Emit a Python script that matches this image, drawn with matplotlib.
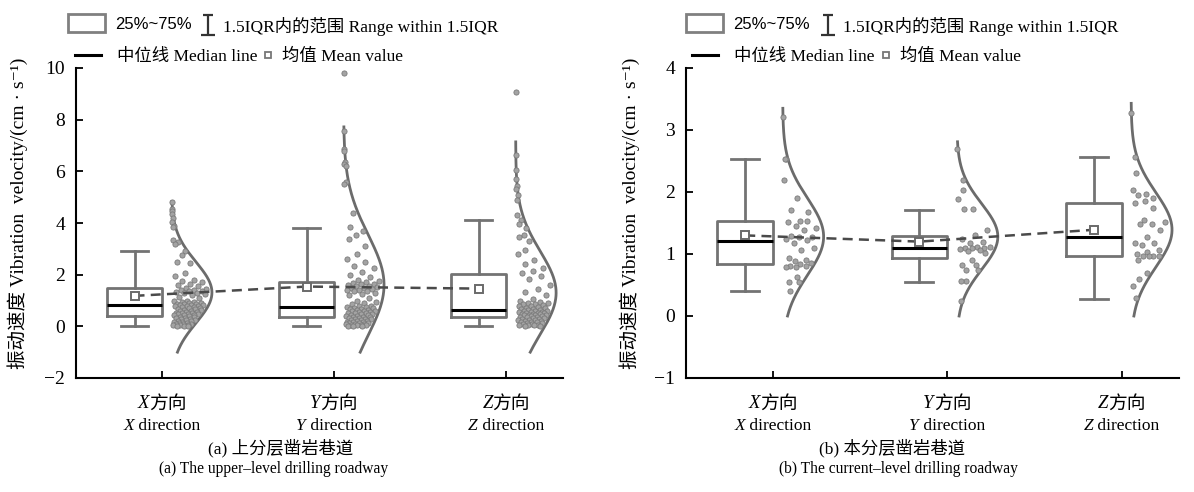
import numpy as np
import matplotlib
matplotlib.use("Agg")
import matplotlib.pyplot as plt
from matplotlib.path import Path
from matplotlib.patches import Rectangle
from matplotlib.lines import Line2D
from matplotlib.legend import Legend
from matplotlib.offsetbox import TextArea, HPacker, AnnotationBbox

plt.rcParams['font.family'] = ['Liberation Serif', 'Noto Sans CJK SC', 'DejaVu Sans']

directions = ['X', 'Y', 'Z']

# (a) upper-level drilling roadway: measured velocities per direction
upper_x = [4.80, 4.55, 4.45, 4.35, 4.20, 4.05, 3.90, 3.85, 3.35, 3.25, 3.20, 2.90,
           2.75, 2.50, 2.45, 2.05, 1.95, 1.80, 1.75, 1.72, 1.65, 1.60, 1.55, 1.50,
           1.45, 1.42, 1.40, 1.38, 1.35, 1.32, 1.30, 1.28, 1.25, 1.20, 1.15, 1.10,
           1.00, 0.98, 0.95, 0.93, 0.92, 0.90, 0.88, 0.87, 0.85, 0.84, 0.83, 0.82,
           0.80, 0.79, 0.77, 0.75, 0.73, 0.72, 0.70, 0.68, 0.66, 0.64, 0.62, 0.60,
           0.58, 0.56, 0.55, 0.53, 0.52, 0.50, 0.48, 0.47, 0.46, 0.45, 0.43, 0.42,
           0.40, 0.38, 0.36, 0.34, 0.32, 0.30, 0.28, 0.26, 0.24, 0.22, 0.20, 0.18,
           0.16, 0.14, 0.12, 0.10, 0.09, 0.08, 0.06, 0.05, 0.04, 0.03, 0.02, 0.01]
upper_y = [9.80, 7.55, 6.85, 6.80, 6.35, 6.30, 6.20, 5.60, 5.50, 4.40, 3.85, 3.70,
           3.55, 3.40, 3.10, 2.80, 2.60, 2.50, 2.35, 2.25, 2.10, 2.00, 1.90, 1.80,
           1.75, 1.70, 1.68, 1.65, 1.62, 1.60, 1.57, 1.55, 1.52, 1.50, 1.47, 1.45,
           1.42, 1.40, 1.37, 1.35, 1.30, 1.25, 1.20, 1.10, 1.00, 0.95, 0.90, 0.85,
           0.80, 0.78, 0.75, 0.73, 0.72, 0.70, 0.68, 0.66, 0.65, 0.63, 0.61, 0.60,
           0.58, 0.56, 0.55, 0.53, 0.51, 0.50, 0.48, 0.46, 0.45, 0.43, 0.41, 0.40,
           0.38, 0.37, 0.36, 0.34, 0.32, 0.30, 0.28, 0.27, 0.25, 0.23, 0.22, 0.20,
           0.18, 0.17, 0.15, 0.14, 0.12, 0.11, 0.10, 0.09, 0.08, 0.07, 0.06, 0.05,
           0.04, 0.03, 0.02, 0.01]
upper_z = [9.06, 6.65, 6.05, 5.70, 5.45, 5.30, 5.10, 4.90, 4.30, 4.10, 3.95, 3.80,
           3.55, 3.45, 3.30, 2.95, 2.80, 2.55, 2.40, 2.25, 2.15, 2.08, 1.95, 1.82,
           1.60, 1.45, 1.31, 1.20, 1.05, 0.98, 0.95, 0.92, 0.90, 0.88, 0.85, 0.82,
           0.80, 0.78, 0.75, 0.72, 0.70, 0.68, 0.66, 0.64, 0.62, 0.61, 0.60, 0.58,
           0.57, 0.56, 0.55, 0.53, 0.52, 0.50, 0.49, 0.48, 0.47, 0.45, 0.44, 0.43,
           0.42, 0.40, 0.39, 0.38, 0.37, 0.36, 0.34, 0.32, 0.30, 0.28, 0.26, 0.25,
           0.23, 0.21, 0.20, 0.18, 0.16, 0.15, 0.13, 0.12, 0.10, 0.09, 0.07, 0.06,
           0.05, 0.04, 0.03, 0.02]
upper_q1 = [0.41, 0.35, 0.35]
upper_med = [0.81, 0.76, 0.63]
upper_q3 = [1.47, 1.73, 2.04]
upper_lo = [0.00, 0.00, 0.00]
upper_hi = [2.91, 3.79, 4.13]
upper_mean = [1.18, 1.54, 1.46]
# normal curves: centre, spread, lower end, upper end
upper_mu = [1.31, 1.60, 1.30]
upper_sd = [1.18, 1.95, 1.61]
upper_end_lo = [-1.0, -1.0, -1.0]
upper_end_hi = [4.83, 7.72, 7.14]

# (b) current-level drilling roadway
current_x = [3.21, 2.53, 2.53, 2.20, 1.91, 1.71, 1.67, 1.54, 1.51, 1.54, 1.45, 1.42,
             1.39, 1.29, 1.27, 1.27, 1.25, 1.22, 1.17, 1.10, 1.07, 0.94, 0.91, 0.89,
             0.86, 0.84, 0.81, 0.81, 0.79, 0.79, 0.63, 0.55, 0.55, 0.41]
current_y = [2.70, 2.20, 2.03, 1.88, 1.72, 1.72, 1.39, 1.30, 1.24, 1.20, 1.17, 1.12,
             1.12, 1.09, 1.09, 1.09, 1.08, 1.07, 1.05, 1.01, 0.91, 0.83, 0.82, 0.74,
             0.74, 0.57, 0.57, 0.24]
current_z = [3.28, 2.56, 2.30, 2.04, 1.96, 1.95, 1.90, 1.86, 1.82, 1.75, 1.55, 1.51,
             1.49, 1.49, 1.39, 1.28, 1.17, 1.17, 1.15, 1.07, 1.03, 1.00, 0.97, 0.97,
             0.97, 0.96, 0.91, 0.70, 0.60, 0.48, 0.29]
current_q1 = [0.84, 0.93, 0.97]
current_med = [1.21, 1.10, 1.27]
current_q3 = [1.53, 1.29, 1.82]
current_lo = [0.40, 0.55, 0.28]
current_hi = [2.53, 1.71, 2.56]
current_mean = [1.30, 1.20, 1.39]
current_mu = [1.28, 1.28, 1.39]
current_sd = [0.62, 0.53, 0.60]
current_end_lo = [0.0, 0.0, 0.0]
current_end_hi = [3.35, 2.81, 3.43]

W, H = 1194, 492
BOX_SHIFT = -0.16
CURVE_SHIFT = 0.055
CURVE_W = 0.235
GREY = '#737373'

fig = plt.figure(figsize=(W / 100, H / 100), dpi=100)
ax_a = fig.add_axes([76 / W, 1 - 378 / H, 487 / W, 310 / H])
ax_b = fig.add_axes([686 / W, 1 - 378 / H, 493 / W, 310 / H])


def jitter(vals, mu, sd):
    # spread the points sideways inside the fitted curve
    vals = np.asarray(vals)
    frac = (0.15 + 0.618034 * np.arange(len(vals))) % 1.0
    width = np.exp(-0.5 * ((vals - mu) / sd) ** 2)
    return (0.06 + 0.82 * frac) * width * CURVE_W


def mixed_label(ax, x, dy, head, tail, size):
    box = HPacker(children=[TextArea(head, textprops=dict(style='italic', size=size)),
                            TextArea(tail, textprops=dict(size=size))],
                  pad=0, sep=0, align='baseline')
    ab = AnnotationBbox(box, (x, 0), xycoords=('data', 'axes fraction'),
                        xybox=(0, dy), boxcoords='offset points', frameon=False,
                        box_alignment=(0.5, 0.5), pad=0, annotation_clip=False)
    ax.add_artist(ab)


def draw_panel(ax, groups, q1, med, q3, lo, hi, means, mu, sd, end_lo, end_hi):
    pos = np.arange(1, len(groups) + 1)
    stats = [dict(med=med[i], q1=q1[i], q3=q3[i], whislo=lo[i], whishi=hi[i], fliers=[])
             for i in range(len(groups))]
    ax.bxp(stats, positions=pos + BOX_SHIFT, widths=0.32, capwidths=0.16,
           showfliers=False, manage_ticks=False,
           boxprops=dict(color=GREY, lw=2), whiskerprops=dict(color=GREY, lw=2),
           capprops=dict(color=GREY, lw=2), medianprops=dict(color='black', lw=2.2))
    for i, vals in enumerate(groups):
        base = pos[i] + CURVE_SHIFT
        yc = np.linspace(end_lo[i], end_hi[i], 300)
        xc = base + CURVE_W * np.exp(-0.5 * ((yc - mu[i]) / sd[i]) ** 2)
        ax.plot(xc, yc, color='#6b6b6b', lw=2, zorder=3)
        ax.scatter(base + jitter(vals, mu[i], sd[i]), vals, s=14, color='#a3a3a3',
                   edgecolors='#7a7a7a', linewidths=0.6, zorder=4)
    ax.plot(pos + BOX_SHIFT, means, ls=(0, (4, 2.5)), color='#4a4a4a', lw=1.8,
            marker='s', ms=6, mfc='white', mec='#6a6a6a', mew=1.4, zorder=5)

    ax.set_xlim(0.5, 3.33)
    ax.set_xticks(pos)
    ax.set_xticklabels([])
    for s in ['top', 'right']:
        ax.spines[s].set_visible(False)
    for s in ['left', 'bottom']:
        ax.spines[s].set_linewidth(1.5)
    ax.tick_params(direction='in', length=5, width=1.3, labelsize=14, pad=8)
    for i, d in enumerate(directions):
        mixed_label(ax, pos[i], -18.7, d, '方向', 13.5)
        mixed_label(ax, pos[i], -34.6, d, ' direction', 12.5)
    ax.set_ylabel('振动速度 Vibration  velocity/(cm · s⁻¹)', fontsize=14)


draw_panel(ax_a, [upper_x, upper_y, upper_z], upper_q1, upper_med, upper_q3,
           upper_lo, upper_hi, upper_mean, upper_mu, upper_sd, upper_end_lo, upper_end_hi)
ax_a.set_ylim(-2, 10)
ax_a.set_yticks([-2, 0, 2, 4, 6, 8, 10])
ax_a.yaxis.set_label_coords(-0.099, 0.53)

draw_panel(ax_b, [current_x, current_y, current_z], current_q1, current_med, current_q3,
           current_lo, current_hi, current_mean, current_mu, current_sd,
           current_end_lo, current_end_hi)
ax_b.set_ylim(-1, 4)
ax_b.set_yticks([-1, 0, 1, 2, 3, 4])
ax_b.yaxis.set_label_coords(-0.093, 0.53)

# keys above each panel
whisker_marker = Path([(-0.5, 1), (0.5, 1), (0, 1), (0, -1), (-0.65, -1), (0.65, -1)],
                      [Path.MOVETO, Path.LINETO, Path.MOVETO, Path.LINETO,
                       Path.MOVETO, Path.LINETO])
box_key = Rectangle((0, 0), 1, 1, facecolor='white', edgecolor='#808080', lw=2)
whisker_key = Line2D([], [], ls='none', marker=whisker_marker, ms=15, mew=1.6, color='#333333')
median_key = Line2D([], [], color='black', lw=2.2)
mean_key = Line2D([], [], ls='none', marker='s', ms=5, mfc='white', mec='#777777', mew=1.3)

keys = [
    (box_key, '25%~75%', 23, 2.2, 0.6, 1.2, 'Liberation Sans'),
    (whisker_key, '1.5IQR内的范围 Range within 1.5IQR', 26, 0.8, 0.45, 0.7, None),
    (median_key, '中位线 Median line', 57, 1.5, 0.9, 0.7, None),
    (mean_key, '均值 Mean value', 57, 0.6, 0.5, 0.7, None),
]
key_x = {ax_a: [68, 201, 75, 263], ax_b: [686, 821, 692, 881]}

for ax in (ax_a, ax_b):
    for (h, lab, ypx, hlen, tpad, hh, fam), xpx in zip(keys, key_x[ax]):
        prop = {'size': 12.5}
        if fam:
            prop['family'] = fam
            prop['size'] = 12
        leg = Legend(ax, [h], [lab], loc='center left',
                     bbox_to_anchor=(xpx / W, 1 - ypx / H), bbox_transform=fig.transFigure,
                     frameon=False, borderpad=0, borderaxespad=0, handlelength=hlen,
                     handleheight=hh, handletextpad=tpad, prop=prop)
        ax.add_artist(leg)

fig.text(281 / W, 1 - 448 / H, '(a) 上分层凿岩巷道', ha='center', va='center', fontsize=12.5)
fig.text(274 / W, 1 - 469 / H, '(a) The upper–level drilling roadway', ha='center', va='center', fontsize=11.2)
fig.text(892 / W, 1 - 448 / H, '(b) 本分层凿岩巷道', ha='center', va='center', fontsize=12.5)
fig.text(898 / W, 1 - 469 / H, '(b) The current–level drilling roadway', ha='center', va='center', fontsize=11.2)

fig.savefig('out.png', dpi=100)
